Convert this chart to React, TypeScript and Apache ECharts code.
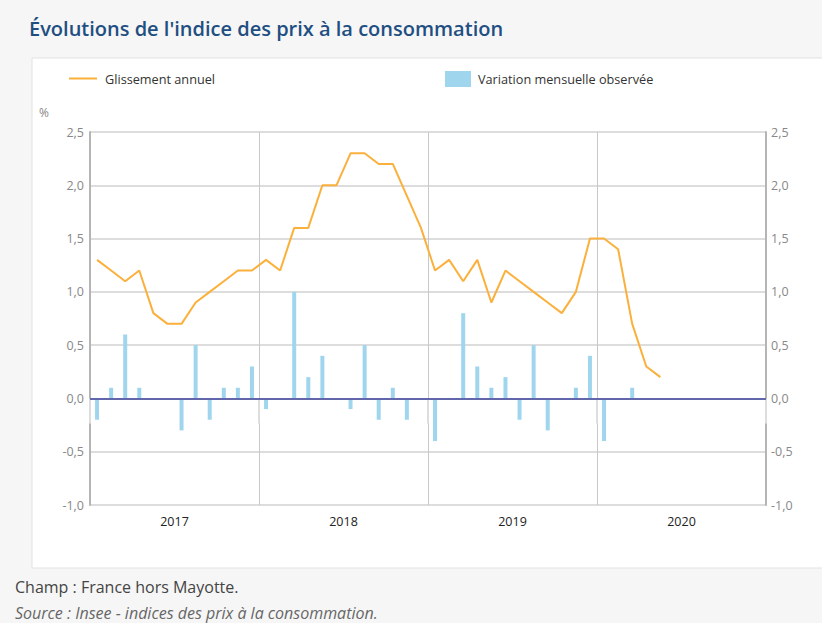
import React, { useEffect, useRef } from "react";
import * as echarts from "echarts";

const years = ["2017", "2018", "2019", "2020"];
const monthNames = ["janv.", "févr.", "mars", "avr.", "mai", "juin", "juil.", "août", "sept.", "oct.", "nov.", "déc."];
const months: string[] = [];
years.forEach((y) => monthNames.forEach((m) => months.push(m + " " + y)));

const glissementAnnuel: (number | null)[] = [
  1.3, 1.2, 1.1, 1.2, 0.8, 0.7, 0.7, 0.9, 1.0, 1.1, 1.2, 1.2,
  1.3, 1.2, 1.6, 1.6, 2.0, 2.0, 2.3, 2.3, 2.2, 2.2, 1.9, 1.6,
  1.2, 1.3, 1.1, 1.3, 0.9, 1.2, 1.1, 1.0, 0.9, 0.8, 1.0, 1.5,
  1.5, 1.4, 0.7, 0.3, 0.2, null, null, null, null, null, null, null,
];

const variationMensuelle: (number | null)[] = [
  -0.2, 0.1, 0.6, 0.1, 0.0, 0.0, -0.3, 0.5, -0.2, 0.1, 0.1, 0.3,
  -0.1, 0.0, 1.0, 0.2, 0.4, 0.0, -0.1, 0.5, -0.2, 0.1, -0.2, 0.0,
  -0.4, 0.0, 0.8, 0.3, 0.1, 0.2, -0.2, 0.5, -0.3, 0.0, 0.1, 0.4,
  -0.4, 0.0, 0.1, 0.0, 0.0, null, null, null, null, null, null, null,
];

const TITLE = "Évolutions de l'indice des prix à la consommation";
const NOTE_CHAMP = "Champ : France hors Mayotte.";
const NOTE_SOURCE = "Source : Insee - indices des prix à la consommation.";

const FONT = "'Open Sans', 'Noto Sans', sans-serif";
const fmt = (v: number) => v.toFixed(1).replace(".", ",");

export default function App() {
  const ref = useRef<HTMLDivElement>(null);
  useEffect(() => {
    if (!ref.current) return;
    const chart = echarts.init(ref.current, null, { renderer: "svg" });
    const yAxisCommon = {
      type: "value",
      min: -1,
      max: 2.5,
      interval: 0.5,
      axisLine: { show: true, lineStyle: { color: "#b5b5b5", width: 2 } },
      axisTick: { show: false },
      splitLine: { show: true, lineStyle: { color: "#dddddd", width: 2 } },
    };
    chart.setOption({
      animation: false,
      backgroundColor: "#f6f6f6",
      textStyle: { fontFamily: FONT },
      graphic: [
        {
          type: "rect",
          z: -10,
          shape: { x: 32, y: 58, width: 800, height: 510 },
          style: { fill: "#ffffff", stroke: "#e2e2e2", lineWidth: 1 },
        },
        {
          type: "text",
          left: 29,
          top: 18,
          style: {
            text: TITLE,
            font: "600 20px " + FONT,
            fill: "#1f4f82",
          },
        },
        {
          type: "text",
          left: 39,
          top: 106,
          style: { text: "%", font: "12px " + FONT, fill: "#888888" },
        },
        {
          type: "text",
          left: 15,
          top: 579,
          style: { text: NOTE_CHAMP, font: "16px " + FONT, fill: "#444444" },
        },
        {
          type: "text",
          left: 15,
          top: 605,
          style: { text: NOTE_SOURCE, font: "italic 16px " + FONT, fill: "#666666" },
        },
      ],
      legend: [
        {
          data: [{ name: "Glissement annuel", icon: "rect" }],
          left: 69,
          top: 72,
          itemWidth: 28,
          itemHeight: 2,
          itemGap: 6,
          padding: 0,
          textStyle: { fontSize: 12.7, color: "#333333", fontFamily: FONT, padding: [0, 0, 0, 3] },
          selectedMode: false,
        },
        {
          data: [{ name: "Variation mensuelle observée", icon: "rect" }],
          left: 445,
          top: 71,
          itemWidth: 26,
          itemHeight: 16,
          itemGap: 6,
          padding: 0,
          textStyle: { fontSize: 12.7, color: "#333333", fontFamily: FONT, padding: [0, 0, 0, 2] },
          selectedMode: false,
        },
      ],
      grid: { left: 90, right: 56, top: 132, bottom: 118, containLabel: false },
      xAxis: [
        {
          type: "category",
          data: months,
          boundaryGap: true,
          show: false,
        },
        {
          type: "category",
          data: years,
          boundaryGap: true,
          position: "bottom",
          axisLine: { show: false },
          axisTick: { show: true, interval: 0, length: 25, lineStyle: { color: "#dddddd", width: 2 } },
          axisLabel: { interval: 0, margin: 10, fontSize: 12.5, color: "#222222", fontFamily: FONT },
          splitLine: { show: true, interval: 0, lineStyle: { color: "#c8c8c8", width: 1 } },
        },
      ],
      yAxis: [
        {
          ...yAxisCommon,
          position: "left",
          axisLabel: { formatter: fmt, fontSize: 12.5, color: "#888888", margin: 6, fontFamily: FONT },
        },
        {
          ...yAxisCommon,
          position: "right",
          splitLine: { show: false },
          axisLabel: { formatter: fmt, fontSize: 12.5, color: "#888888", margin: 5, fontFamily: FONT },
        },
      ],
      series: [
        {
          name: "Variation mensuelle observée",
          type: "bar",
          xAxisIndex: 0,
          yAxisIndex: 0,
          data: variationMensuelle,
          barWidth: 4,
          itemStyle: { color: "#9fd6ee" },
          markLine: {
            silent: true,
            symbol: "none",
            label: { show: false },
            lineStyle: { color: "#6266aa", width: 2, type: "solid" },
            data: [{ yAxis: 0 }],
          },
        },
        {
          name: "Glissement annuel",
          type: "line",
          xAxisIndex: 0,
          yAxisIndex: 0,
          data: glissementAnnuel,
          showSymbol: false,
          symbol: "none",
          lineStyle: { color: "#fbb03b", width: 2 },
          itemStyle: { color: "#fbb03b" },
          z: 5,
        },
      ],
    });
    return () => chart.dispose();
  }, []);
  return (
    <div
      ref={ref}
      style={{ position: "fixed", left: 0, top: 0, width: 822, height: 623 }}
    />
  );
}
